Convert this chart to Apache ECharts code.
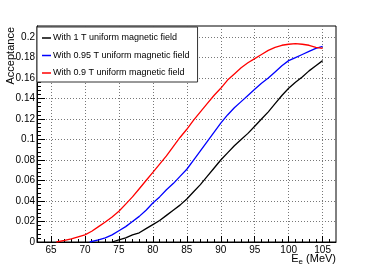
<!DOCTYPE html>
<html><head><meta charset="utf-8">
<script src="https://cdn.jsdelivr.net/npm/echarts@6/dist/echarts.min.js"></script>
<style>html,body{margin:0;padding:0;background:#fff}#c{width:374px;height:269px}</style>
</head><body><div id="c"></div>
<script>
// tick labels
const xTickLabels = [65, 70, 75, 80, 85, 90, 95, 100, 105];
const yTickLabels = [0, 0.02, 0.04, 0.06, 0.08, 0.1, 0.12, 0.14, 0.16, 0.18, 0.2];
const xMinorTicks = [63,64,65,66,67,68,69,70,71,72,73,74,75,76,77,78,79,80,81,82,83,84,85,86,87,88,89,90,91,92,93,94,95,96,97,98,99,100,101,102,103,104,105,106];
const yMinorTicks = [0,0.004,0.008,0.012,0.016,0.02,0.024,0.028,0.032,0.036,0.04,0.044,0.048,0.052,0.056,0.06,0.064,0.068,0.072,0.076,0.08,0.084,0.088,0.092,0.096,0.1,0.104,0.108,0.112,0.116,0.12,0.124,0.128,0.132,0.136,0.14,0.144,0.148,0.152,0.156,0.16,0.164,0.168,0.172,0.176,0.18,0.184,0.188,0.192,0.196,0.2,0.204,0.208];

// series names
const seriesNames = ['With 1 T uniform magnetic field', 'With 0.95 T uniform magnetic field', 'With 0.9 T uniform magnetic field'];

// 1 T
const energy1T = [74,75,76,77,78,79,80,81,82,83,84,85,86,87,88,89,90,91,92,93,94,95,96,97,98,99,100,101,102,103,104,105];
const accept1T = [0.000,0.002,0.004,0.007,0.009,0.013,0.017,0.021,0.026,0.031,0.036,0.042,0.049,0.056,0.064,0.072,0.080,0.087,0.094,0.100,0.106,0.113,0.120,0.127,0.135,0.143,0.150,0.156,0.161,0.167,0.172,0.177];

// 0.95 T
const energy095T = [70.7,72,73,74,75,76,77,78,79,80,81,82,83,84,85,86,87,88,89,90,91,92,93,94,95,96,97,98,99,100,101,102,103,104,105];
const accept095T = [0.000,0.002,0.004,0.007,0.011,0.015,0.020,0.025,0.031,0.038,0.044,0.051,0.057,0.064,0.071,0.080,0.089,0.098,0.107,0.116,0.124,0.131,0.137,0.143,0.149,0.155,0.160,0.166,0.172,0.177,0.180,0.183,0.186,0.189,0.191];

// 0.9 T
const energy09T = [65.8,67,68,69,70,71,72,73,74,75,76,77,78,79,80,81,82,83,84,85,86,87,88,89,90,91,92,93,94,95,96,97,98,99,100,101,102,103,104,105];
const accept09T = [0.000,0.0015,0.003,0.005,0.007,0.0105,0.015,0.0195,0.0245,0.030,0.037,0.044,0.052,0.060,0.068,0.076,0.084,0.093,0.102,0.110,0.119,0.127,0.135,0.143,0.150,0.158,0.164,0.170,0.175,0.179,0.183,0.187,0.190,0.192,0.193,0.1935,0.193,0.192,0.190,0.189];

const xMin = 62.94, xMax = 106.97, yMin = 0, yMax = 0.2108;
const FONT = 'Liberation Sans, Arial, Helvetica, sans-serif';

function pairs(xs, ys) { return xs.map((x, i) => [x, ys[i]]); }

const chart = echarts.init(document.getElementById('c'), null, {renderer: 'canvas'});
const gridLine = {show: true, lineStyle: {color: '#777', type: [1, 2], width: 1}};
chart.setOption({
  animation: false,
  backgroundColor: '#fff',
  grid: {left: 37, right: 38, top: 26, bottom: 27, show: true, borderColor: '#000', borderWidth: 1, containLabel: false, outerBoundsMode: 'none'},
  xAxis: [
    {type: 'value', min: xMin, max: xMax, position: 'bottom',
     axisLine: {show: true, onZero: false, lineStyle: {color: '#000'}},
     axisTick: {show: true, inside: true, length: 6, customValues: xTickLabels, lineStyle: {color: '#000'}},
     axisLabel: {customValues: xTickLabels, margin: 3, fontSize: 10, color: '#000', fontFamily: FONT},
     splitLine: gridLine},
    {type: 'value', min: xMin, max: xMax, position: 'bottom',
     axisLine: {show: false, onZero: false},
     axisTick: {show: true, inside: true, length: 3, customValues: xMinorTicks, lineStyle: {color: '#000'}},
     axisLabel: {show: false}, splitLine: {show: false}}
  ],
  yAxis: [
    {type: 'value', min: yMin, max: yMax, position: 'left',
     axisLine: {show: true, onZero: false, lineStyle: {color: '#000'}},
     axisTick: {show: true, inside: true, length: 8, customValues: yTickLabels, lineStyle: {color: '#000'}},
     axisLabel: {customValues: yTickLabels, margin: 2, fontSize: 10, color: '#000', fontFamily: FONT},
     splitLine: gridLine},
    {type: 'value', min: yMin, max: yMax, position: 'left',
     axisLine: {show: false, onZero: false},
     axisTick: {show: true, inside: true, length: 4, customValues: yMinorTicks, lineStyle: {color: '#000'}},
     axisLabel: {show: false}, splitLine: {show: false}}
  ],
  legend: {
    left: 37, top: 27, orient: 'vertical', icon: 'rect', itemWidth: 9, itemHeight: 1.5, itemGap: 7.5,
    padding: [6, 8, 4, 5], backgroundColor: '#fff', borderColor: '#333', borderWidth: 1,
    textStyle: {fontSize: 9, lineHeight: 10, fontFamily: FONT, color: '#000', padding: [0, 0, 0, -3]},
    data: seriesNames
  },
  graphic: [
    {type: 'text', x: 11, y: 27, rotation: Math.PI / 2,
     style: {text: 'Acceptance', font: '11px ' + FONT, fill: '#000', align: 'right', verticalAlign: 'middle'}},
    {type: 'text', x: 336, y: 259,
     style: {text: '{a|E}{b|e}{a| (MeV)}', fill: '#000', align: 'right', verticalAlign: 'middle',
       rich: {a: {fontSize: 11, fontFamily: FONT, lineHeight: 12}, b: {fontSize: 8, fontFamily: FONT, padding: [6, 0, 0, 0]}}}}
  ],
  series: [
    {name: seriesNames[0], type: 'line', symbol: 'none', data: pairs(energy1T, accept1T), lineStyle: {color: '#000', width: 1.3}, itemStyle: {color: '#000'}},
    {name: seriesNames[1], type: 'line', symbol: 'none', data: pairs(energy095T, accept095T), lineStyle: {color: '#0000ff', width: 1.3}, itemStyle: {color: '#0000ff'}},
    {name: seriesNames[2], type: 'line', symbol: 'none', data: pairs(energy09T, accept09T), lineStyle: {color: '#ff0000', width: 1.3}, itemStyle: {color: '#ff0000'}}
  ]
});
</script></body></html>
